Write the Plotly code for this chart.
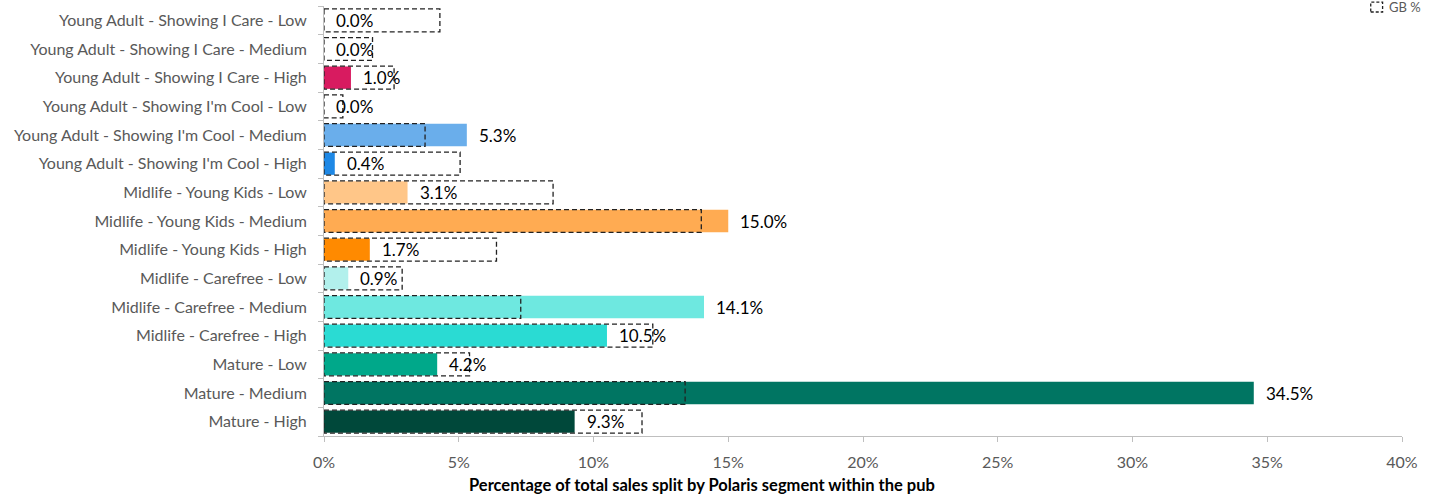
import plotly.graph_objects as go

categories = [
    "Young Adult - Showing I Care - Low",
    "Young Adult - Showing I Care - Medium",
    "Young Adult - Showing I Care - High",
    "Young Adult - Showing I'm Cool - Low",
    "Young Adult - Showing I'm Cool - Medium",
    "Young Adult - Showing I'm Cool - High",
    "Midlife - Young Kids - Low",
    "Midlife - Young Kids - Medium",
    "Midlife - Young Kids - High",
    "Midlife - Carefree - Low",
    "Midlife - Carefree - Medium",
    "Midlife - Carefree - High",
    "Mature - Low",
    "Mature - Medium",
    "Mature - High",
]
pub_pct = [0.0, 0.0, 1.0, 0.0, 5.3, 0.4, 3.1, 15.0, 1.7, 0.9, 14.1, 10.5, 4.2, 34.5, 9.3]
gb_pct = [4.3, 1.8, 2.6, 0.7, 3.75, 5.05, 8.5, 14.0, 6.4, 2.9, 7.3, 12.2, 5.4, 13.4, 11.8]
bar_colors = ["#F48FB1", "#E91E63", "#D81B60", "#90CAF9", "#6AAEEB", "#1E88E5",
              "#FFC688", "#FFAB52", "#FF8A00", "#B2F0EC", "#6EE8E0", "#2ADBD3",
              "#00A88A", "#007562", "#00483A"]
x_ticks = [0, 5, 10, 15, 20, 25, 30, 35, 40]
x_title = "Percentage of total sales split by Polaris segment within the pub"
legend_name = "GB %"

FONT = "Lato, Open Sans, sans-serif"
DASH = "5px,3px"
idx = list(range(len(categories)))
half = 0.4

fig = go.Figure()
fig.add_trace(go.Bar(
    y=idx, x=pub_pct, orientation="h", width=0.78,
    marker=dict(color=bar_colors, line=dict(width=0)),
    showlegend=False, hoverinfo="skip",
))

rx, ry = [], []
for i, g in zip(idx, gb_pct):
    rx += [0, g, g, 0, 0, None]
    ry += [i - half, i - half, i + half, i + half, i - half, None]
fig.add_trace(go.Scatter(
    x=rx, y=ry, mode="lines", name=legend_name,
    line=dict(color="#222222", width=1.3, dash=DASH),
    hoverinfo="skip", cliponaxis=False, showlegend=False,
))

# value labels just outside the end of each pub bar
for i, v in zip(idx, pub_pct):
    fig.add_annotation(x=v, y=i, xref="x", yref="y", text=f"{v:.1f}%",
                       showarrow=False, xanchor="left", yanchor="middle", xshift=10,
                       font=dict(family=FONT, size=17, color="#000000"))

# axis title (placed left of centre, as in the original)
fig.add_annotation(x=0.351, y=-0.114, xref="paper", yref="paper",
                   text="<b>" + x_title + "</b>", showarrow=False,
                   xanchor="center", yanchor="middle",
                   font=dict(family=FONT, size=16.5, color="#000000"))

# legend at the very top right
fig.add_shape(type="rect", xref="paper", yref="paper",
              x0=0.971, x1=0.982, y0=0.986, y1=1.009,
              line=dict(color="#222222", width=1.3, dash="3px,2px"))
fig.add_annotation(x=0.986, y=0.9977, xref="paper", yref="paper", text=legend_name,
                   showarrow=False, xanchor="left", yanchor="middle",
                   font=dict(family=FONT, size=13, color="#595959"))

fig.update_layout(
    width=1437, height=497,
    margin=dict(l=324, r=35, t=6, b=61, autoexpand=False),
    paper_bgcolor="white", plot_bgcolor="white",
    font=dict(family=FONT, color="#595959"),
    showlegend=False,
    xaxis=dict(range=[0, 40], tickvals=x_ticks, ticktext=[f"{t}%" for t in x_ticks],
               showgrid=False, zeroline=False, showline=True, linecolor="#BFBFBF",
               linewidth=1, ticks="outside", ticklen=5, tickcolor="#BFBFBF",
               ticklabelstandoff=7,
               tickfont=dict(size=16, color="#595959")),
    yaxis=dict(range=[len(categories) - 0.5, -0.5], tickvals=idx, ticktext=categories,
               showgrid=False, zeroline=False, showline=True, linecolor="#BFBFBF",
               linewidth=1, ticks="", ticklabelstandoff=13,
               tickfont=dict(size=16, color="#595959"),
               minor=dict(tickvals=[i + 0.5 for i in idx] + [-0.5], ticks="outside",
                          ticklen=5, tickcolor="#BFBFBF")),
)

fig.write_html("out.html", config={"displayModeBar": False},
               post_script="document.body.style.margin='0';document.body.style.padding='0';")
